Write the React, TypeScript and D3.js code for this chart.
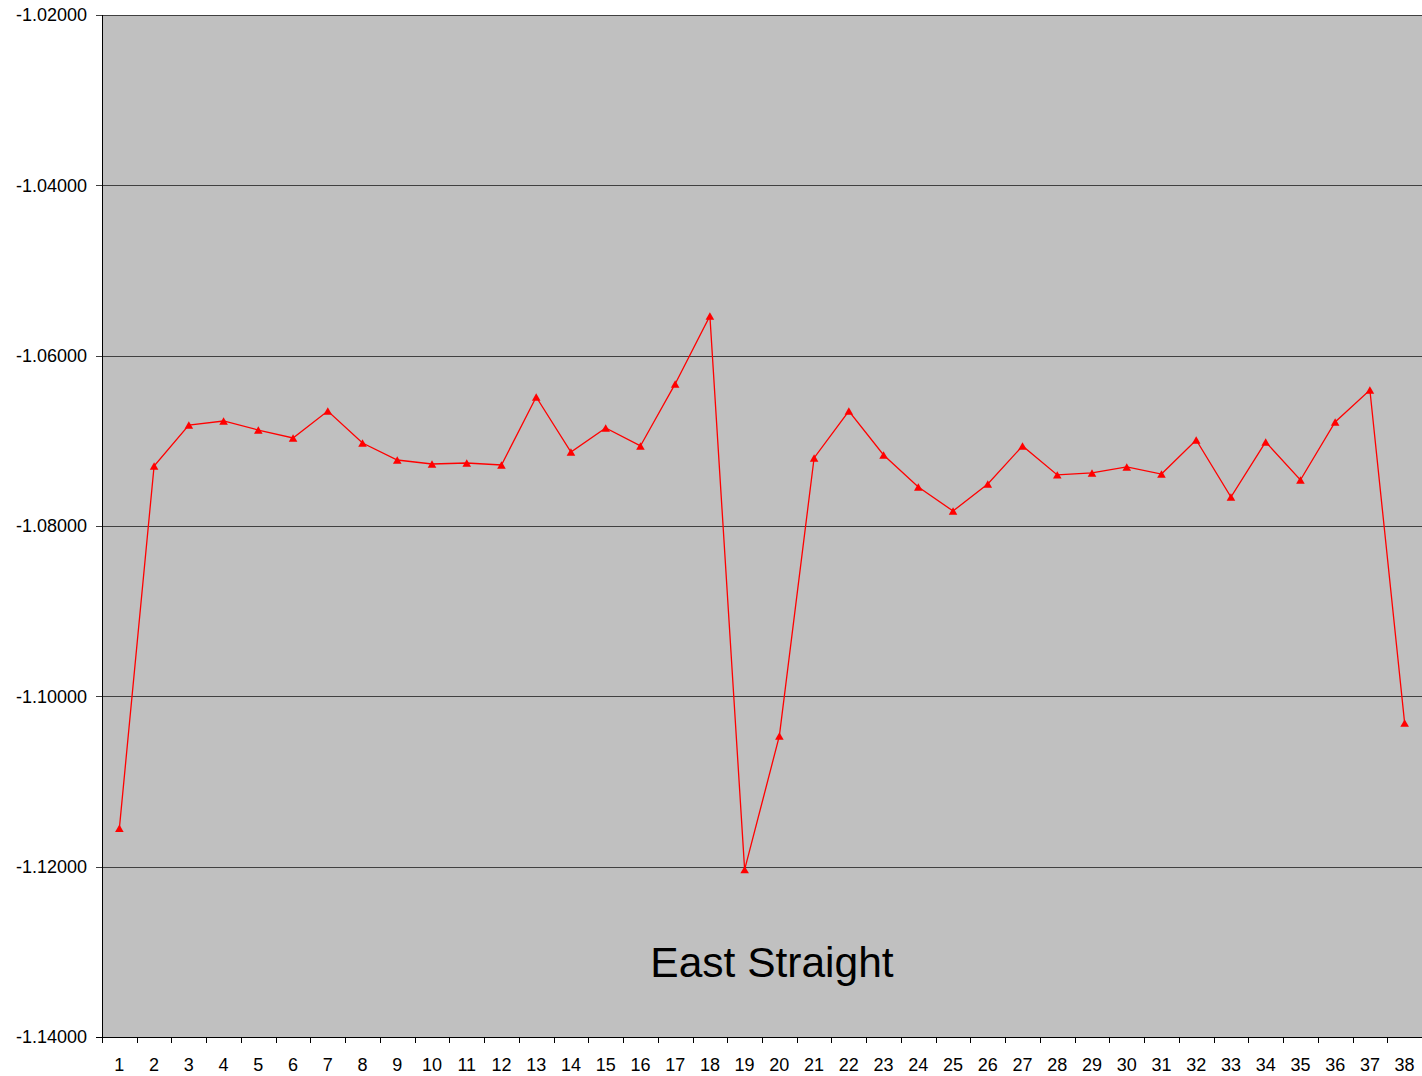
import React from "react";
import * as d3 from "d3";

const categories = Array.from({ length: 38 }, (_, i) => String(i + 1));
const values = [
  -1.1155, -1.07295, -1.06814, -1.06767, -1.06873, -1.06966, -1.0665, -1.07025,
  -1.07225, -1.07272, -1.0726, -1.07284, -1.06485, -1.07131, -1.06849, -1.0706,
  -1.06332, -1.05534, -1.12035, -1.10465, -1.07201, -1.0665, -1.07166, -1.07542,
  -1.07824, -1.07507, -1.0706, -1.074, -1.07377, -1.07307, -1.0739, -1.0699,
  -1.0766, -1.07013, -1.0746, -1.06779, -1.06403, -1.10313,
];
const yTicks = [-1.02, -1.04, -1.06, -1.08, -1.1, -1.12, -1.14];
const title = "East Straight";

const W = 1422, H = 1076;
const L = 102, R = 1422, T = 15, B = 1037;

export default function App() {
  const x = d3.scaleBand<string>().domain(categories).range([L, R]);
  const y = d3.scaleLinear().domain([-1.14, -1.02]).range([B, T]);
  const line = d3
    .line<number>()
    .x((_, i) => (x(categories[i]) as number) + x.bandwidth() / 2)
    .y((d) => y(d));
  const triSize = 32;
  const tri = d3.symbol().type(d3.symbolTriangle).size(triSize)();
  const ty = Math.sqrt(triSize / (Math.sqrt(3) * 3));
  const offset = ty / 2; // center the triangle's bounding box on the data point
  const font = "'Liberation Sans', Arial, sans-serif";
  const bounds = categories.map((c) => x(c) as number).concat([R]);
  return (
    <svg width={W} height={H} style={{ position: "absolute", left: 0, top: 0 }} fontFamily={font}>
      <rect x={L} y={T} width={R - L} height={B - T} fill="#c0c0c0" />
      {yTicks.map((t) => (
        <g key={t}>
          <line x1={L - 6} x2={R} y1={Math.round(y(t)) + 0.5} y2={Math.round(y(t)) + 0.5} stroke={t === -1.14 ? "#000" : "#404040"} strokeWidth={1} />
          <text x={87} y={y(t)} dy="0.35em" textAnchor="end" fontSize={18} fill="#000">
            {t.toFixed(5)}
          </text>
        </g>
      ))}
      <line x1={L + 0.5} x2={L + 0.5} y1={T} y2={B} stroke="#000" />
      {bounds.map((b, i) => (
        <line key={i} x1={Math.round(b) + 0.5} x2={Math.round(b) + 0.5} y1={B} y2={B + 6} stroke="#000" />
      ))}
      {categories.map((c) => (
        <text key={c} x={(x(c) as number) + x.bandwidth() / 2} y={B + 34} textAnchor="middle" fontSize={18} fill="#000">
          {c}
        </text>
      ))}
      <path d={line(values) || ""} fill="none" stroke="#ff0000" strokeWidth={1.3} />
      {values.map((v, i) => (
        <path key={i} d={tri || ""} transform={`translate(${(x(categories[i]) as number) + x.bandwidth() / 2},${y(v) + offset})`} fill="#ff0000" />
      ))}
      <text x={772} y={977} textAnchor="middle" fontSize={42.5} fill="#000">
        {title}
      </text>
    </svg>
  );
}
